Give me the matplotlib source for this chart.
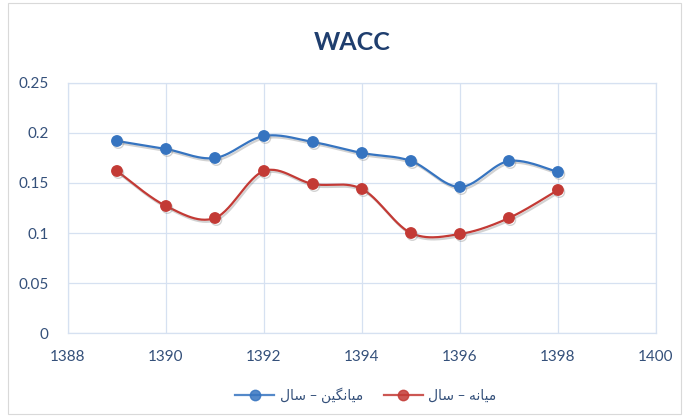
import numpy as np
import matplotlib
matplotlib.use("Agg")
import matplotlib.pyplot as plt
import matplotlib.patheffects as pe
from matplotlib.patches import Rectangle
from matplotlib.ticker import FuncFormatter, MultipleLocator

## Data
years = [1389, 1390, 1391, 1392, 1393, 1394, 1395, 1396, 1397, 1398]
mean_wacc = [0.192, 0.184, 0.175, 0.197, 0.191, 0.180, 0.172, 0.146, 0.172, 0.161]
median_wacc = [0.162, 0.127, 0.115, 0.162, 0.149, 0.144, 0.100, 0.099, 0.115, 0.143]
series_labels = ["میانگین – سال", "میانه – سال"]
chart_title = "WACC"

## Arabic letter forms: isolated, final, initial, medial (None = no forward join)
FORMS = {
    "ا": ("\uFE8D", "\uFE8E", None, None),
    "م": ("\uFEE1", "\uFEE2", "\uFEE3", "\uFEE4"),
    "ی": ("\uFBFC", "\uFBFD", "\uFBFE", "\uFBFF"),
    "ن": ("\uFEE5", "\uFEE6", "\uFEE7", "\uFEE8"),
    "گ": ("\uFB92", "\uFB93", "\uFB94", "\uFB95"),
    "ه": ("\uFEE9", "\uFEEA", "\uFEEB", "\uFEEC"),
    "س": ("\uFEB1", "\uFEB2", "\uFEB3", "\uFEB4"),
    "ل": ("\uFEDD", "\uFEDE", "\uFEDF", "\uFEE0"),
}


def shape_rtl(text):
    ## Small reshaper: pick joined glyph forms, then reverse into visual order
    out = []
    for i, ch in enumerate(text):
        if ch not in FORMS:
            out.append(ch)
            continue
        prev = text[i - 1] if i > 0 else ""
        nxt = text[i + 1] if i + 1 < len(text) else ""
        join_prev = prev in FORMS and FORMS[prev][2] is not None
        join_next = FORMS[ch][2] is not None and nxt in FORMS
        iso, fin, ini, med = FORMS[ch]
        if join_prev and join_next:
            out.append(med)
        elif join_prev:
            out.append(fin)
        elif join_next:
            out.append(ini)
        else:
            out.append(iso)
    return "".join(out)[::-1]


def smooth(x, y, n=30):
    ## Excel style smoothed line: cubic Bezier with Catmull-Rom control points
    p = np.column_stack([x, y]).astype(float)
    pts = []
    t = np.linspace(0, 1, n)[:, None]
    for i in range(len(p) - 1):
        p0 = p[i - 1] if i > 0 else p[i]
        p3 = p[i + 2] if i + 2 < len(p) else p[i + 1]
        c1 = p[i] + (p[i + 1] - p0) / 6
        c2 = p[i + 1] - (p3 - p[i]) / 6
        seg = ((1 - t) ** 3) * p[i] + 3 * ((1 - t) ** 2) * t * c1 \
            + 3 * (1 - t) * t ** 2 * c2 + t ** 3 * p[i + 1]
        pts.append(seg)
    pts = np.vstack(pts)
    return pts[:, 0], pts[:, 1]


plt.rcParams['font.family'] = ['Lato', 'DejaVu Sans']

fig = plt.figure(figsize=(6.84, 4.17), dpi=100)
ax = fig.add_axes([0.0994, 0.2014, 0.8596, 0.5996])

## Chart area border
fig.patches.append(Rectangle((8 / 684, 3 / 417), 673 / 684, 411 / 417,
                             transform=fig.transFigure, fill=False,
                             edgecolor='#D9D9D9', linewidth=0.8))

grid_color = '#D6E1F1'
text_color = '#34507A'
blue = '#3674C0'
red = '#C33A35'
shadow = [pe.SimpleLineShadow(offset=(1, -1.5), shadow_color='gray', alpha=0.35), pe.Normal()]

for vals, color, label in [(mean_wacc, blue, series_labels[0]), (median_wacc, red, series_labels[1])]:
    sx, sy = smooth(years, vals)
    ax.plot(sx, sy, color=color, linewidth=1.6, path_effects=shadow, zorder=3)
    ax.plot(years, vals, linestyle='none', marker='o', markersize=7.5,
            color=color, path_effects=shadow, zorder=4)
    ## legend proxy
    ax.plot([], [], color=color, linewidth=1.6, marker='o', markersize=7.5,
            alpha=0.85, label=shape_rtl(label))

ax.set_xlim(1388, 1400)
ax.set_ylim(0, 0.25)
ax.xaxis.set_major_locator(MultipleLocator(2))
ax.yaxis.set_major_locator(MultipleLocator(0.05))
ax.yaxis.set_major_formatter(FuncFormatter(lambda v, pos: "%g" % round(v, 2)))
ax.grid(True, color=grid_color, linewidth=0.9)
ax.set_axisbelow(True)
for s in ax.spines.values():
    s.set_color(grid_color)
    s.set_linewidth(0.9)
ax.tick_params(length=0, labelsize=11, labelcolor=text_color, pad=12)
ax.tick_params(axis='y', pad=14)

fig.text(0.515, 0.897, chart_title, ha='center', va='center', fontsize=18,
         fontweight='bold', color='#1F3E6E')

fig.legend(loc='center', bbox_to_anchor=(0.535, 0.052), ncol=2, frameon=False,
           fontsize=10, labelcolor=text_color, handlelength=2.8, columnspacing=1.5,
           handletextpad=0.4)

fig.savefig("out.png", dpi=100)
